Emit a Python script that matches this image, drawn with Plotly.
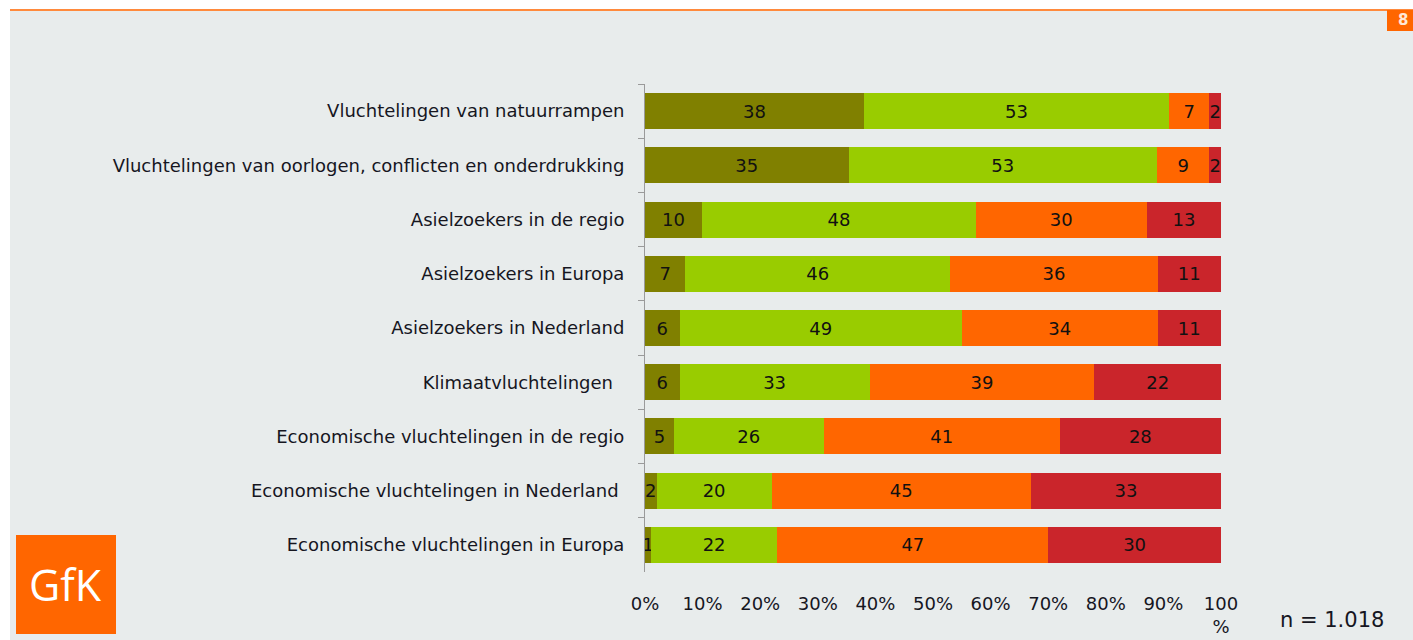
import plotly.graph_objects as go

categories = [
    "Vluchtelingen van natuurrampen",
    "Vluchtelingen van oorlogen, conflicten en onderdrukking",
    "Asielzoekers in de regio",
    "Asielzoekers in Europa",
    "Asielzoekers in Nederland",
    "Klimaatvluchtelingen\u00a0\u00a0",
    "Economische vluchtelingen in de regio",
    "Economische vluchtelingen in Nederland\u00a0",
    "Economische vluchtelingen in Europa",
]
s1 = [38, 35, 10, 7, 6, 6, 5, 2, 1]
s2 = [53, 53, 48, 46, 49, 33, 26, 20, 22]
s3 = [7, 9, 30, 36, 34, 39, 41, 45, 47]
s4 = [2, 2, 13, 11, 11, 22, 28, 33, 30]
series = [s1, s2, s3, s4]
colors = ["#808000", "#99CC00", "#FF6600", "#CA252B"]

tickvals = [0, 10, 20, 30, 40, 50, 60, 70, 80, 90, 100]
ticktext = ["0%", "10%", "20%", "30%", "40%", "50%", "60%", "70%", "80%", "90%", "100<br>%"]

FONT = "DejaVu Sans"
TXT = "#16161f"
FS = 18

fig = go.Figure()
for vals, col in zip(series, colors):
    fig.add_trace(go.Bar(
        y=categories, x=vals, orientation="h",
        marker=dict(color=col, line=dict(width=0)),
        text=[str(v) for v in vals],
        textposition="inside", insidetextanchor="middle",
        textfont=dict(family=FONT, size=FS, color="#111111"),
        hoverinfo="skip",
    ))

L, R, T, B = 645, 192, 84, 68
W, H = 1413, 640
pw, ph = W - L - R, H - T - B

def px_x(p):
    return (p - L) / pw

def px_y(p):
    return (H - B - p) / ph

shapes = [
    dict(type="rect", xref="paper", yref="paper", x0=px_x(0), x1=px_x(10), y0=px_y(H), y1=px_y(0),
         fillcolor="white", line=dict(width=0), layer="below"),
    dict(type="rect", xref="paper", yref="paper", x0=px_x(0), x1=px_x(W), y0=px_y(9), y1=px_y(0),
         fillcolor="white", line=dict(width=0), layer="below"),
    dict(type="line", xref="paper", yref="paper", x0=px_x(10), x1=px_x(W), y0=px_y(10), y1=px_y(10),
         line=dict(color="#FF8A3D", width=2)),
    dict(type="rect", xref="paper", yref="paper", x0=px_x(1387), x1=px_x(W), y0=px_y(31), y1=px_y(10),
         fillcolor="#FF6600", line=dict(width=0)),
    dict(type="rect", xref="paper", yref="paper", x0=px_x(16), x1=px_x(116), y0=px_y(634), y1=px_y(535),
         fillcolor="#FF6600", line=dict(width=0)),
]

annotations = [
    dict(text="<b>8</b>", xref="paper", yref="paper", x=px_x(1403), y=px_y(20), showarrow=False,
         font=dict(family=FONT, size=15, color="#FFE8D8"), xanchor="center", yanchor="middle"),
    dict(text="GfK", xref="paper", yref="paper", x=px_x(65), y=px_y(584), showarrow=False,
         font=dict(family="Open Sans", size=43, color="white"), xanchor="center", yanchor="middle"),
    dict(text="n = 1.018", xref="paper", yref="paper", x=px_x(1332), y=px_y(620), showarrow=False,
         font=dict(family=FONT, size=21, color=TXT), xanchor="center", yanchor="middle"),
]

fig.update_layout(
    barmode="stack",
    barnorm="percent",
    bargap=0.335,
    width=W, height=H,
    margin=dict(l=L, r=R, t=T, b=B, pad=0, autoexpand=False),
    paper_bgcolor="#E8ECEC",
    plot_bgcolor="#E8ECEC",
    showlegend=False,
    shapes=shapes,
    annotations=annotations,
    uniformtext=dict(minsize=FS, mode="show"),
    font=dict(family=FONT, size=FS, color=TXT),
)
fig.update_xaxes(
    range=[0, 100], tickvals=tickvals, ticktext=ticktext,
    showgrid=False, zeroline=False, showline=False,
    ticks="", ticklabelstandoff=19, automargin=False,
    tickfont=dict(family=FONT, size=FS, color=TXT),
)
fig.update_yaxes(
    autorange="reversed", showgrid=False, zeroline=False,
    showline=True, linecolor="#9a9a9a", linewidth=1,
    ticks="outside", tickson="boundaries", ticklen=6, tickcolor="#9a9a9a",
    ticklabelstandoff=16, automargin=False,
    tickfont=dict(family=FONT, size=FS, color=TXT),
)

fig.write_html(
    "out.html",
    config={"displayModeBar": False},
    post_script="document.body.style.margin='0';document.body.style.overflow='hidden';",
)
